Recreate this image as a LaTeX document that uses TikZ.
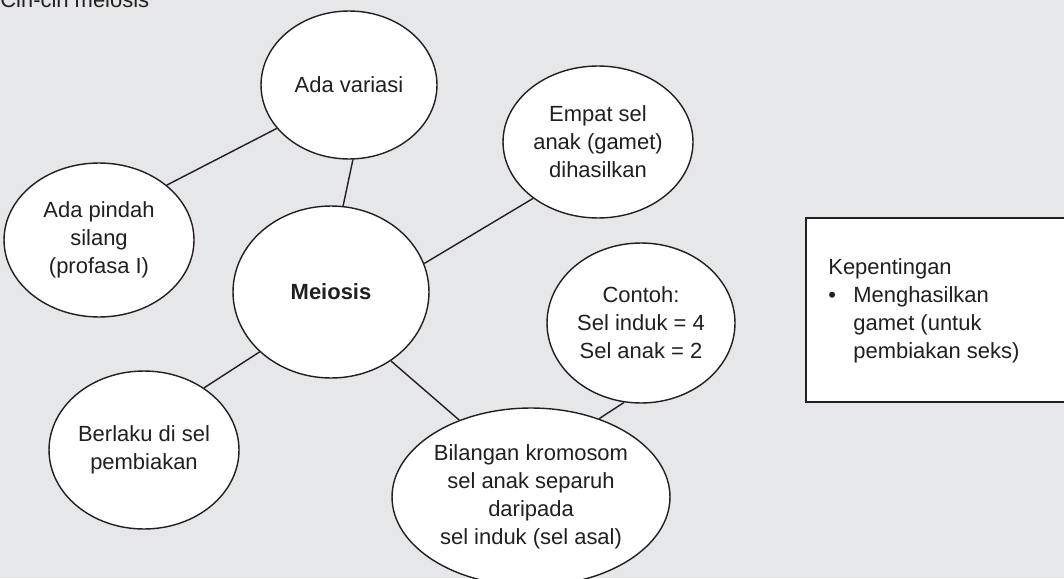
\documentclass[tikz,border=0pt]{standalone}
\usepackage{fontspec}
\setmainfont{Liberation Sans}
\usetikzlibrary{shapes.geometric}

\definecolor{bggrey}{RGB}{230,231,232}
\definecolor{inkblack}{RGB}{35,31,32}

\begin{document}
\begin{tikzpicture}[x=0.02cm, y=-0.02cm,
    every node/.style={text=inkblack, font=\fontsize{12.5pt}{15.9pt}\selectfont},
    bubble/.style 2 args={ellipse, draw=inkblack, line width=0.8pt, fill=white,
        inner sep=0pt, align=center, minimum width=#1, minimum height=#2},
    link/.style={draw=inkblack, line width=0.8pt}]
    % Grey page behind everything
    \fill[bggrey] (0,0) rectangle (1064,578);
    \useasboundingbox (0,0) rectangle (1064,578);

    % Heading, cut off by the top edge
    \node[anchor=base west, inner sep=0pt] (title) at (0,8) {Ciri-ciri meiosis};

    \coordinate (c-meiosis) at (331,292);

    % The bubbles round the centre
    \node[bubble={3.52cm}{2.96cm}] (variasi) at (349,85) {Ada variasi};
    \node[bubble={3.8cm}{3.08cm}] (pindah) at (99,240) {Ada pindah\\silang\\(profasa I)};
    \node[bubble={3.92cm}{3.44cm}, font=\fontsize{12.5pt}{15.9pt}\selectfont\bfseries] (meiosis) at (c-meiosis) {Meiosis};
    \node[bubble={3.8cm}{3.04cm}] (empat) at (598,142) {Empat sel\\anak (gamet)\\dihasilkan};
    \node[bubble={3.76cm}{3.2cm}] (contoh) at (641,323) {Contoh:\\Sel induk = 4\\Sel anak = 2};
    \node[bubble={5.56cm}{3.56cm}] (bilangan) at (531,497) {Bilangan kromosom\\sel anak separuh\\daripada\\sel induk (sel asal)};
    \node[bubble={3.8cm}{3.16cm}] (berlaku) at (144,450) {Berlaku di sel\\pembiakan};

    % Connectors between the bubbles
    \draw[link] (pindah.39) -- (variasi.211);
    \draw[link] (meiosis.82) -- (variasi.273);
    \draw[link] (meiosis.17.5) -- (empat.221);
    \draw[link] (meiosis.311) -- (bilangan.133.5);
    \draw[link] (contoh.258.7) -- (bilangan.49);
    \draw[link] (meiosis.220) -- (berlaku.46);

    % Side box, running off the right edge
    \draw[draw=inkblack, line width=0.8pt, fill=white] (806,218) rectangle (1070,402);
    % base of a multi-line node is its last line
    \node[anchor=base west, inner sep=0pt, align=left] (kepentingan) at (828,358)
        {Kepentingan\\
         \makebox[0.5cm][l]{\textbullet}Menghasilkan\\
         \hspace*{0.5cm}gamet (untuk\\
         \hspace*{0.5cm}pembiakan seks)};
\end{tikzpicture}
\end{document}
